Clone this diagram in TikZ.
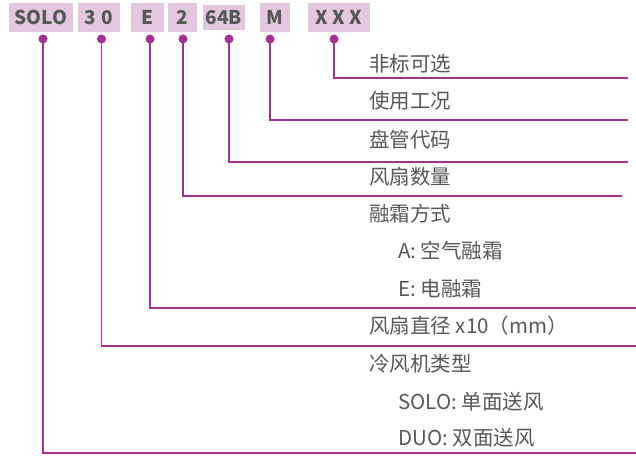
\documentclass[tikz,border=0pt]{standalone}
\usepackage{fontspec}
\setmainfont{Noto Sans CJK SC}
\usepackage{tikz}
\definecolor{plum}{HTML}{A4308F}
\definecolor{lilac}{HTML}{E3C6DF}
\definecolor{ink}{HTML}{575757}

\begin{document}
\begin{tikzpicture}[x=1pt,y=-1pt,
	code/.style={fill=lilac, text=ink, inner sep=0pt, minimum height=29pt, font=\fontsize{19}{19}\selectfont\bfseries},
	item/.style={anchor=west, text=ink, inner sep=0pt, font=\fontsize{20.5}{24}\selectfont},
	link/.style={draw=plum, line width=1.8pt},
	dot/.style={fill=plum}]
		\useasboundingbox (0,0) rectangle (636,455);
		% the code boxes
		\node[code, minimum width=64pt] (solo) at (41,17.5) {SOLO};
		\node[code, minimum width=42pt] (size) at (99,17.5) {3\hspace{6pt}0};
		\node[code, minimum width=33pt] (defr) at (147.5,17.5) {E};
		\node[code, minimum width=29pt] (fans) at (182.5,17.5) {2};
		\node[code, minimum width=42pt, minimum height=25pt] (coil) at (224,17.5) {64B};
		\node[code, minimum width=30pt] (cond) at (275,17.5) {M};
		\node[code, minimum width=62pt] (opt) at (339,17.5) {X X X};
		% the texts
		\node[item] (t1) at (369,64) {非标可选};
		\node[item] (t2) at (369,101) {使用工况};
		\node[item] (t3) at (369,140) {盘管代码};
		\node[item] (t4) at (369,177) {风扇数量};
		\node[item] (t5) at (369,214) {融霜方式};
		\node[item] (t5a) at (398,251) {A: 空气融霜};
		\node[item] (t5b) at (398,289) {E: 电融霜};
		\node[item] (t6) at (369,326) {风扇直径 x10（mm）};
		\node[item] (t7) at (369,364) {冷风机类型};
		\node[item] (t7a) at (398,402) {SOLO: 单面送风};
		\node[item] (t7b) at (398,438) {DUO: 双面送风};
		% dots under the boxes and the line ends
		\coordinate (d1) at (334,39);
		\coordinate (d2) at (270,39);
		\coordinate (d3) at (229,39);
		\coordinate (d4) at (183,39);
		\coordinate (d5) at (150,39);
		\coordinate (d6) at (101.5,39);
		\coordinate (d7) at (43,39);
		\coordinate (e1) at (628,78);
		\coordinate (e2) at (628,120);
		\coordinate (e3) at (628,162);
		\coordinate (e4) at (622,196);
		\coordinate (e5) at (636,308);
		\coordinate (e6) at (636,346);
		\coordinate (e7) at (636,453);
		\foreach \i in {1,...,7} {
			\draw[link] (d\i) |- (e\i);
			\fill[dot] (d\i) circle (4.5pt);
		}
	\end{tikzpicture}
\end{document}
